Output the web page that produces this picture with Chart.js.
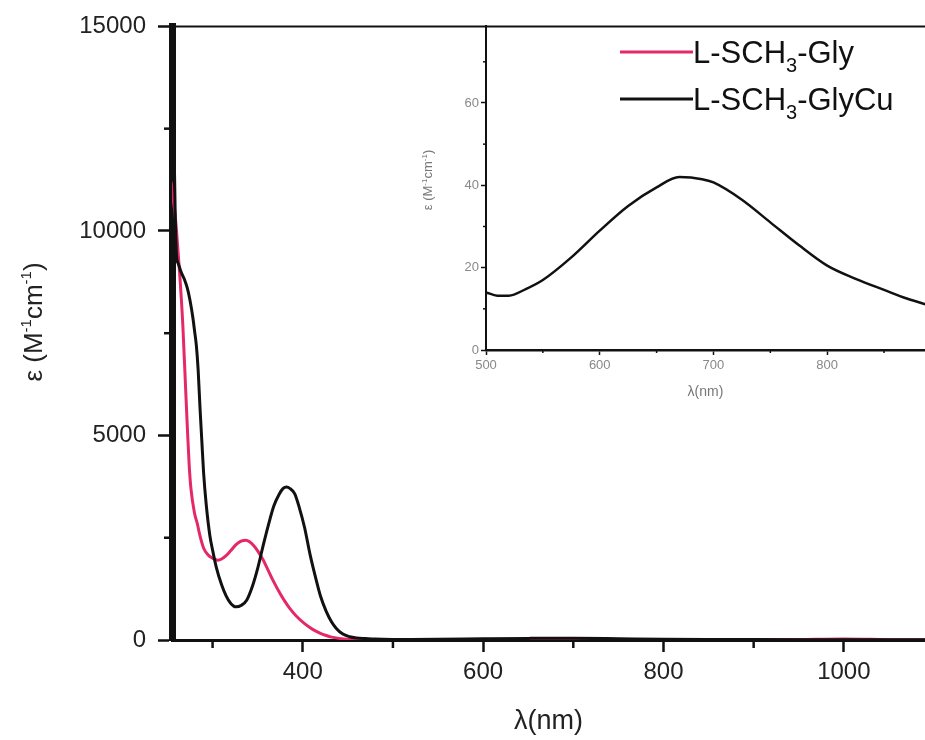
<!DOCTYPE html>
<html>
<head>
<meta charset="utf-8">
<script src="https://cdn.jsdelivr.net/npm/chart.js@4.4.1/dist/chart.umd.min.js"></script>
<style>
  html, body { margin: 0; padding: 0; background: #fff; }
  #wrap { position: relative; width: 925px; height: 740px; overflow: hidden; background: #fff; }
  #mainChart { position: absolute; left: 0; top: 0; }
  #insetChart { position: absolute; left: 380px; top: 0; }
</style>
</head>
<body>
<div id="wrap">
  <canvas id="mainChart" width="925" height="740"></canvas>
  <canvas id="insetChart" width="545" height="410"></canvas>
</div>
<script>
// UV-vis spectra, molar absorptivity vs wavelength
const glyWavelength = [254, 256, 258, 260, 262, 264, 267, 270, 272, 274, 276, 280, 283, 286, 290, 295, 300, 306, 310, 315, 320, 326, 331, 337, 341, 346, 350, 356, 360, 366, 375, 380, 386, 393, 402, 411, 419, 426, 432, 440, 450, 470, 500, 600, 700, 800, 900, 950, 1000, 1050, 1090];
const glyEpsilon = [11200, 10800, 10500, 10000, 9400, 8800, 7700, 6200, 5200, 4300, 3700, 3100, 2850, 2550, 2250, 2080, 2000, 1950, 1980, 2060, 2180, 2330, 2410, 2440, 2400, 2300, 2180, 1960, 1780, 1500, 1130, 950, 760, 580, 400, 260, 170, 110, 70, 40, 18, 6, 5, 8, 10, 6, 5, 12, 25, 8, 5];

const glyCuWavelength = [254, 257, 258.5, 260, 262, 265, 269, 272, 275, 278, 280, 282, 284, 286, 288, 290, 293, 297, 300, 304, 310, 315, 320, 326, 332, 338, 344, 350, 356, 362, 368, 374, 378, 382, 386, 391, 396, 402, 408, 415, 420, 426, 432, 437, 444, 452, 460, 470, 480, 500, 520, 550, 600, 650, 670, 700, 750, 800, 850, 900, 950, 1000, 1050, 1090];
const glyCuEpsilon = [16500, 12500, 10500, 9400, 9200, 9000, 8800, 8600, 8300, 7900, 7560, 7200, 6600, 5700, 4900, 4100, 3300, 2550, 2200, 1790, 1350, 1080, 900, 810, 850, 980, 1300, 1750, 2300, 2820, 3280, 3570, 3700, 3740, 3700, 3580, 3250, 2750, 2100, 1460, 1050, 700, 440, 290, 150, 80, 50, 35, 22, 14, 13.2, 17, 29, 39.5, 42, 40.7, 31, 20.5, 14.6, 10, 8, 7, 6, 5];

// inset: Cu d-d band
const insetWavelength = [500, 510, 520, 535, 550, 575, 600, 625, 650, 670, 690, 700, 725, 750, 775, 800, 825, 850, 870, 890];
const insetEpsilon = [14, 13.2, 13.2, 14.8, 17, 22.5, 29, 35, 39.5, 42, 41.5, 40.7, 36.5, 31, 25.5, 20.5, 17.3, 14.6, 12.5, 10.8];

const mainXTicks = [400, 600, 800, 1000];
const mainXMinor = [300, 500, 700, 900];
const mainYTicks = [0, 5000, 10000, 15000];
const mainYMinor = [2500, 7500, 12500];
const insetXTicks = [500, 600, 700, 800];
const insetXMinor = [550, 650, 750, 850];
const insetYTicks = [0, 20, 40, 60];
const insetYMinor = [10, 30, 50, 70];

const seriesNames = ['L-SCH', '3', '-Gly', '-GlyCu'];
const RED = '#e4286a';
const INK = '#111';
const FONT = "'Liberation Sans', Arial, sans-serif";

function toPoints(xs, ys) {
  return xs.map((x, i) => ({ x, y: ys[i] }));
}

// plain numbers, no thousands separator
const plainTick = v => String(v);

// draws a run of text pieces with different sizes / vertical offsets
function drawRich(ctx, parts, x, y, align) {
  let total = 0;
  parts.forEach(p => { ctx.font = p.size + 'px ' + FONT; total += ctx.measureText(p.t).width; });
  let cx = align === 'center' ? x - total / 2 : x;
  ctx.textAlign = 'left';
  ctx.textBaseline = 'alphabetic';
  parts.forEach(p => {
    ctx.font = p.size + 'px ' + FONT;
    ctx.fillText(p.t, cx, y + (p.dy || 0));
    cx += ctx.measureText(p.t).width;
  });
}

function epsilonLabel(size, supSize, rise) {
  return [
    { t: 'ε (M', size },
    { t: '-1', size: supSize, dy: -rise },
    { t: 'cm', size },
    { t: '-1', size: supSize, dy: -rise },
    { t: ')', size }
  ];
}

function strokeLine(ctx, x1, y1, x2, y2) {
  ctx.beginPath();
  ctx.moveTo(x1, y1);
  ctx.lineTo(x2, y2);
  ctx.stroke();
}

const mainDecor = {
  id: 'mainDecor',
  afterDraw(chart) {
    const { ctx, chartArea: a, scales: { x, y } } = chart;
    ctx.save();
    ctx.strokeStyle = INK;
    ctx.lineWidth = 2;
    strokeLine(ctx, a.left, a.top, a.right, a.top);
    ctx.lineWidth = 2.5;
    mainYMinor.forEach(v => {
      const py = y.getPixelForValue(v);
      strokeLine(ctx, a.left - 8, py, a.left, py);
    });
    mainXMinor.forEach(v => {
      const px = x.getPixelForValue(v);
      strokeLine(ctx, px, a.bottom, px, a.bottom + 8);
    });

    // y axis title
    ctx.fillStyle = '#222';
    ctx.save();
    ctx.translate(42, 322);
    ctx.rotate(-Math.PI / 2);
    drawRich(ctx, epsilonLabel(26, 15, 11), 0, 0, 'center');
    ctx.restore();

    // legend
    const entries = [
      { color: RED, parts: [{ t: seriesNames[0], size: 31 }, { t: seriesNames[1], size: 20, dy: 9 }, { t: seriesNames[2], size: 31 }], ly: 52, ty: 63 },
      { color: INK, parts: [{ t: seriesNames[0], size: 31 }, { t: seriesNames[1], size: 20, dy: 9 }, { t: seriesNames[3], size: 31 }], ly: 99, ty: 110 }
    ];
    entries.forEach(e => {
      ctx.strokeStyle = e.color;
      ctx.lineWidth = 3;
      strokeLine(ctx, 620, e.ly, 693, e.ly);
      ctx.fillStyle = INK;
      drawRich(ctx, e.parts, 693, e.ty, 'left');
    });
    ctx.restore();
  }
};

const insetDecor = {
  id: 'insetDecor',
  afterDraw(chart) {
    const { ctx, chartArea: a, scales: { x, y } } = chart;
    ctx.save();
    ctx.strokeStyle = INK;
    ctx.lineWidth = 1.5;
    insetYMinor.forEach(v => {
      const py = y.getPixelForValue(v);
      strokeLine(ctx, a.left - 3, py, a.left, py);
    });
    insetXMinor.forEach(v => {
      const px = x.getPixelForValue(v);
      strokeLine(ctx, px, a.bottom, px, a.bottom + 3);
    });
    ctx.fillStyle = '#777';
    ctx.save();
    ctx.translate(52, 180);
    ctx.rotate(-Math.PI / 2);
    drawRich(ctx, epsilonLabel(13, 8, 5), 0, 0, 'center');
    ctx.restore();
    ctx.restore();
  }
};

new Chart(document.getElementById('mainChart'), {
  type: 'line',
  data: {
    datasets: [
      {
        label: 'L-SCH3-GlyCu',
        data: toPoints(glyCuWavelength, glyCuEpsilon),
        borderColor: INK,
        borderWidth: 3,
        pointRadius: 0,
        cubicInterpolationMode: 'monotone'
      },
      {
        label: 'L-SCH3-Gly',
        data: toPoints(glyWavelength, glyEpsilon),
        borderColor: RED,
        borderWidth: 3,
        pointRadius: 0,
        cubicInterpolationMode: 'monotone'
      }
    ]
  },
  options: {
    responsive: false,
    animation: false,
    layout: { padding: { top: 25, right: 0, left: 0, bottom: 0 } },
    plugins: { legend: { display: false }, tooltip: { enabled: false } },
    scales: {
      x: {
        type: 'linear',
        min: 255,
        max: 1090,
        afterBuildTicks: s => { s.ticks = mainXTicks.map(v => ({ value: v })); },
        afterFit: s => { s.height = 100; },
        ticks: { color: '#222', font: { family: FONT, size: 24 }, padding: 6, maxRotation: 0, callback: plainTick },
        grid: { drawOnChartArea: false, drawTicks: true, tickLength: 12, tickWidth: 2.5, tickColor: INK },
        border: { color: INK, width: 3 },
        title: { display: true, text: 'λ(nm)', color: '#222', font: { family: FONT, size: 27 }, padding: { top: 0, bottom: 2 } }
      },
      y: {
        min: 0,
        max: 15000,
        afterBuildTicks: s => { s.ticks = mainYTicks.map(v => ({ value: v })); },
        afterFit: s => { s.width = 172; },
        ticks: { color: '#222', font: { family: FONT, size: 24 }, padding: 12, callback: plainTick },
        grid: { drawOnChartArea: false, drawTicks: true, tickLength: 14, tickWidth: 2.5, tickColor: INK },
        border: { color: INK, width: 7 }
      }
    }
  },
  plugins: [mainDecor]
});

new Chart(document.getElementById('insetChart'), {
  type: 'line',
  data: {
    datasets: [{
      label: 'L-SCH3-GlyCu',
      data: toPoints(insetWavelength, insetEpsilon),
      borderColor: INK,
      borderWidth: 2.5,
      pointRadius: 0,
      cubicInterpolationMode: 'monotone'
    }]
  },
  options: {
    responsive: false,
    animation: false,
    layout: { padding: { top: 26, right: 0, left: 0, bottom: 0 } },
    plugins: { legend: { display: false }, tooltip: { enabled: false } },
    scales: {
      x: {
        type: 'linear',
        min: 500,
        max: 886,
        afterBuildTicks: s => { s.ticks = insetXTicks.map(v => ({ value: v })); },
        afterFit: s => { s.height = 60; },
        ticks: { color: '#888', font: { family: FONT, size: 13 }, padding: 3, maxRotation: 0, callback: plainTick },
        grid: { drawOnChartArea: false, drawTicks: true, tickLength: 5, tickWidth: 1.5, tickColor: INK },
        border: { color: INK, width: 2.5 },
        title: { display: true, text: 'λ(nm)', color: '#777', font: { family: FONT, size: 14 }, padding: { top: 0, bottom: 9 } }
      },
      y: {
        min: 0,
        max: 78.7,
        afterBuildTicks: s => { s.ticks = insetYTicks.map(v => ({ value: v })); },
        afterFit: s => { s.width = 106; },
        ticks: { color: '#888', font: { family: FONT, size: 13 }, padding: 2, callback: plainTick },
        grid: { drawOnChartArea: false, drawTicks: true, tickLength: 5, tickWidth: 1.5, tickColor: INK },
        border: { color: INK, width: 2 }
      }
    }
  },
  plugins: [insetDecor]
});
</script>
</body>
</html>
